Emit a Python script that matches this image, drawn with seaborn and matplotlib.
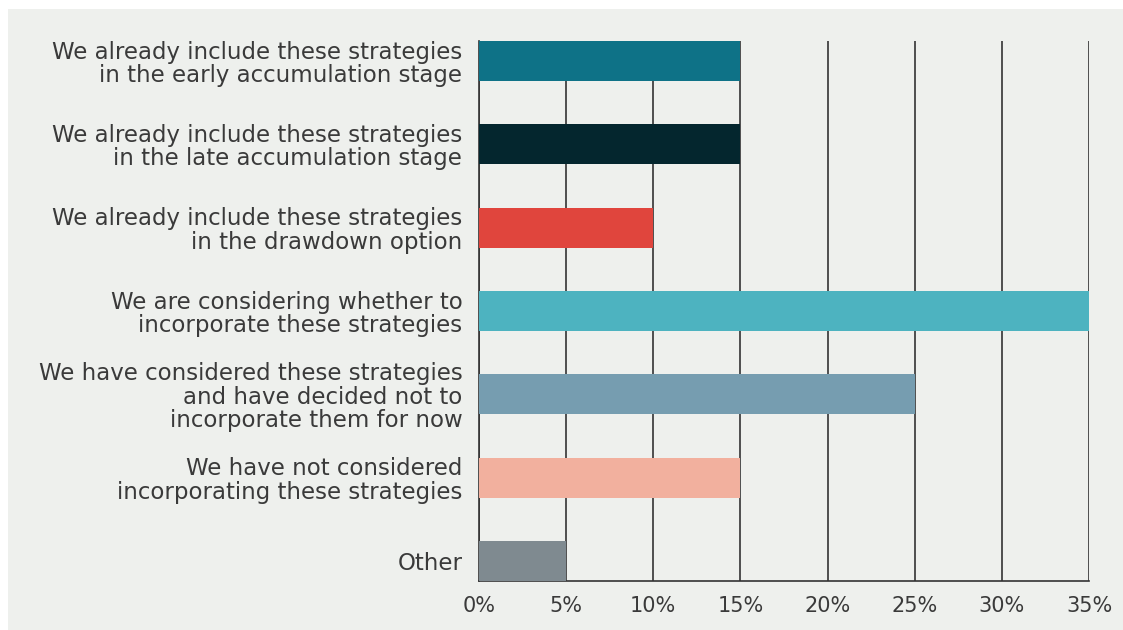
import pandas as pd
import seaborn as sns
import matplotlib.pyplot as plt
from matplotlib.patches import Rectangle
from matplotlib.ticker import MultipleLocator, FuncFormatter

# === DATA ===
categories = [
    "We already include these strategies\nin the early accumulation stage",
    "We already include these strategies\nin the late accumulation stage",
    "We already include these strategies\nin the drawdown option",
    "We are considering whether to\nincorporate these strategies",
    "We have considered these strategies\nand have decided not to\nincorporate them for now",
    "We have not considered\nincorporating these strategies",
    "Other",
]
shares = [15, 15, 10, 35, 25, 15, 5]
colors = ["#0E7287", "#04262E", "#E0453D", "#4DB3C0", "#769DB0", "#F2B09E", "#7F8A90"]

df = pd.DataFrame({"Category": categories, "Share": shares})

# === SETTINGS ===
sns.set_theme(style="white")
plt.rcParams["font.family"] = ["DejaVu Sans"]
BG = "#EEF0ED"
TXT = "#3A3A3A"

fig = plt.figure(figsize=(11.23, 6.3), dpi=100, facecolor="white")
# grey panel behind everything
fig.patches.append(Rectangle((8 / 1123, 0), 1, 1 - 9 / 630, transform=fig.transFigure,
                             facecolor=BG, edgecolor="none", zorder=-10))
ax = fig.add_axes([479 / 1123, 1 - 581 / 630, 610 / 1123, 540 / 630])
ax.set_facecolor(BG)

sns.barplot(data=df, y="Category", x="Share", hue="Category", palette=colors,
            legend=False, width=0.48, saturation=1, linewidth=0, ax=ax, zorder=3)

ax.set_xlim(0, 35)
ax.set_ylim(6.24, -0.24)
ax.xaxis.set_major_locator(MultipleLocator(5))
ax.xaxis.set_major_formatter(FuncFormatter(lambda v, p: f"{v:.0f}%"))
ax.grid(axis="x", color="#333333", linewidth=1.2, zorder=1)
ax.set_axisbelow(True)

for side in ["top", "right"]:
    ax.spines[side].set_visible(False)
for side in ["left", "bottom"]:
    ax.spines[side].set_color("#333333")
    ax.spines[side].set_linewidth(1.2)

ax.set_xlabel("")
ax.set_ylabel("")
ax.tick_params(axis="x", length=0, pad=11, labelsize=15, labelcolor=TXT)
ax.tick_params(axis="y", length=0, pad=12, labelsize=16.5, labelcolor=TXT)
for lbl in ax.get_yticklabels():
    lbl.set_horizontalalignment("right")
    lbl.set_multialignment("right")
    lbl.set_linespacing(1.02)

fig.savefig("out.png", dpi=100, facecolor="white")
